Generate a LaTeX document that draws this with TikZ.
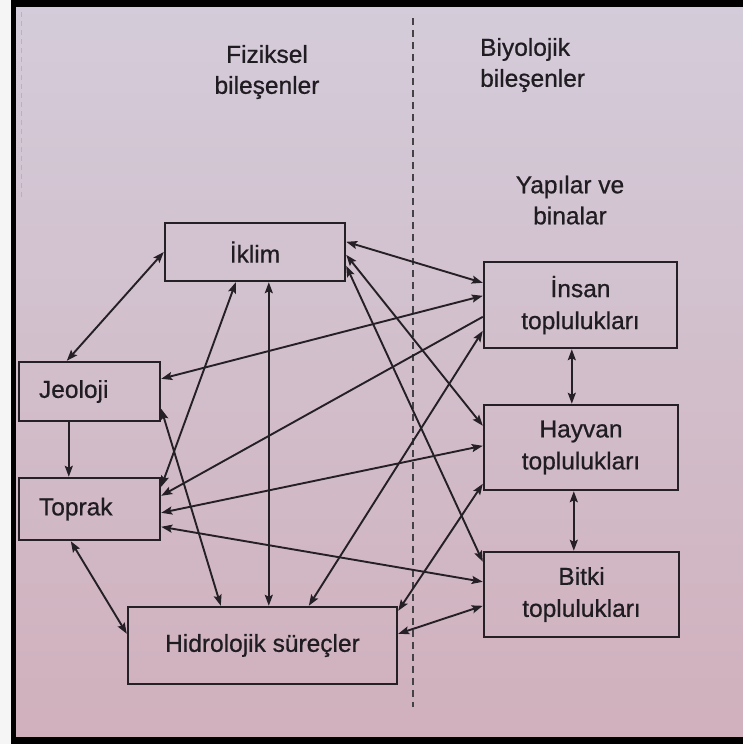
\documentclass[tikz,border=0pt]{standalone}
\usepackage{fontspec}
\setmainfont{Liberation Sans}[BoldFont=Liberation Sans, BoldFeatures={FakeBold=0.7}]
\usetikzlibrary{arrows.meta,calc}
\definecolor{ink}{RGB}{36,32,38}
\definecolor{txt}{RGB}{32,29,34}
\definecolor{bgtop}{RGB}{212,204,218}
\definecolor{bgbot}{RGB}{208,176,188}
\tikzset{
  box/.style={draw=ink, line width=2.4pt, rectangle, inner sep=0pt, text=txt, align=center,
    font=\fontsize{24.5}{32}\selectfont\bfseries},
  lbl/.style={inner sep=0pt, text=txt, align=center, font=\fontsize{24.5}{31}\selectfont\bfseries},
  conn/.style={draw=ink, line width=1.9pt},
  dbl/.style={conn, {Stealth[length=11pt,width=8pt,inset=2pt]}-{Stealth[length=11pt,width=8pt,inset=2pt]}},
  sgl/.style={conn, -{Stealth[length=11pt,width=8pt,inset=2pt]}},
}
\begin{document}
\begin{tikzpicture}[x=1pt,y=-1pt]
\useasboundingbox (0,0) rectangle (743,744);
% background and frame
\shade[top color=bgtop, bottom color=bgbot] (0,0) rectangle (743,744);
\fill[white!92!gray] (0,0) rectangle (11,744);
\fill[black] (11,0) rectangle (743,7);
\fill[black] (11,0) rectangle (16,744);
\fill[black] (11,737) rectangle (743,744);
\draw[gray!70, line width=1pt, dash pattern=on 5pt off 4pt, opacity=0.6] (21,12) -- (21,200);
% divider
\draw[ink!85, line width=2pt, dash pattern=on 7pt off 5pt] (413,18) -- (413,707);
% labels
\node[lbl] (fiz) at (267,72) {Fiziksel\\bileşenler};
\node[lbl, anchor=west, align=left] (biy) at (480,65) {Biyolojik\\bileşenler};
\node[lbl] (yap) at (570,200) {Yapılar ve\\binalar};
% boxes
\node[box, minimum width=180pt, minimum height=58pt] (ik) at (255,252) {İklim};
\node[box, minimum height=59pt, text width=101pt, inner xsep=20pt, align=left] (jeo) at (89.5,391.5) {Jeoloji};
\node[box, minimum height=62pt, text width=101pt, inner xsep=20pt, align=left] (top) at (89.5,509) {Toprak};
\node[box, minimum width=269pt, minimum height=77pt] (hid) at (262.5,645.5) {Hidrolojik süreçler};
\node[box, minimum width=193pt, minimum height=86pt] (ins) at (580.5,305) {İnsan\\toplulukları};
\node[box, minimum width=194pt, minimum height=85pt] (hay) at (581,447.5) {Hayvan\\toplulukları};
\node[box, minimum width=195pt, minimum height=85pt] (bit) at (581.5,594.5) {Bitki\\toplulukları};
% connectors
\draw[dbl] (ik.west) -- ($(jeo.north west)+(49,0)$);
\draw[sgl] ($(jeo.south west)+(51,0)$) -- ($(top.north west)+(51,0)$);
\draw[dbl] ($(top.south west)+(53,0)$) -- ($(hid.north west)+(0,28)$);
\draw[dbl] ($(ik.south west)+(105,0)$) -- ($(hid.north west)+(142,0)$);
\draw[dbl] ($(ik.south west)+(72,0)$) -- ($(top.north east)+(0,10)$);
\draw[dbl] ($(ik.north east)+(0,20)$) -- ($(ins.north west)+(0,22)$);
\draw[dbl] ($(ik.north east)+(0,33)$) -- ($(hay.north west)+(0,22)$);
\draw[dbl] ($(ik.north east)+(0,44)$) -- ($(bit.north west)+(0,11)$);
\draw[dbl] ($(jeo.north east)+(0,18)$) -- ($(ins.north west)+(0,35)$);
\draw[dbl] ($(jeo.north east)+(0,48)$) -- ($(hid.north west)+(94,0)$);
\draw[sgl] ($(ins.north west)+(0,56)$) -- ($(top.north east)+(0,19)$);
\draw[dbl] ($(hay.north west)+(0,42)$) -- ($(top.north east)+(0,36)$);
\draw[dbl] ($(bit.north west)+(0,31)$) -- ($(top.north east)+(0,50)$);
\draw[dbl] ($(ins.north west)+(0,70)$) -- ($(hid.north west)+(182,0)$);
\draw[dbl] ($(hay.north west)+(0,80)$) -- ($(hid.north east)+(0,5)$);
\draw[dbl] ($(bit.north west)+(0,55)$) -- ($(hid.north east)+(0,28)$);
\draw[dbl] ($(ins.south west)+(89,0)$) -- ($(hay.north west)+(89,0)$);
\draw[dbl] ($(hay.south west)+(91,0)$) -- ($(bit.north west)+(91,0)$);
\end{tikzpicture}
\end{document}
